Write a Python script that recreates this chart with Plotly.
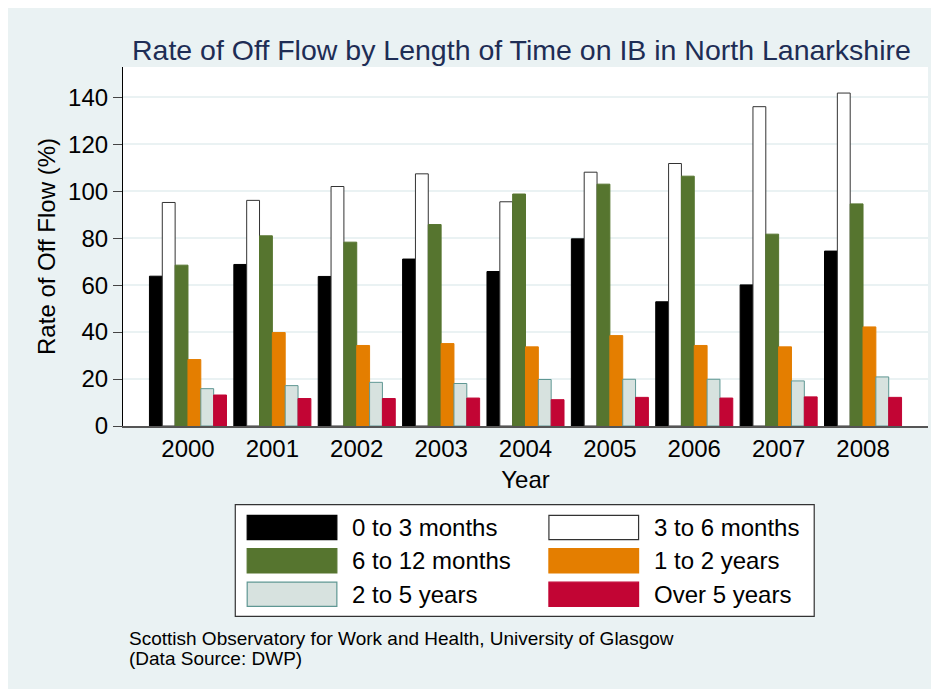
import plotly.graph_objects as go

years = ["2000", "2001", "2002", "2003", "2004", "2005", "2006", "2007", "2008"]
series_names = ["0 to 3 months", "3 to 6 months", "6 to 12 months",
                "1 to 2 years", "2 to 5 years", "Over 5 years"]
m0_3 = [63.8, 68.8, 63.7, 71.1, 65.8, 79.7, 52.9, 60.1, 74.5]
m3_6 = [95.2, 96.1, 102.0, 107.4, 95.5, 108.1, 111.8, 136.0, 141.8]
m6_12 = [68.5, 81.0, 78.3, 85.8, 98.8, 103.0, 106.4, 81.7, 94.6]
y1_2 = [28.3, 39.8, 34.3, 35.1, 33.7, 38.5, 34.3, 33.7, 42.2]
y2_5 = [15.9, 17.2, 18.6, 18.1, 19.8, 19.9, 19.9, 19.2, 20.9]
y5p = [13.2, 11.7, 11.7, 11.9, 11.2, 12.2, 11.9, 12.4, 12.2]
yticks = [0, 20, 40, 60, 80, 100, 120, 140]

series_values = [m0_3, m3_6, m6_12, y1_2, y2_5, y5p]
fills = ["#000000", "#FFFFFF", "#56752F", "#E47E00", "#D7E2DF", "#C20534"]
outlines = ["#000000", "#333333", "#56752F", "#E47E00", "#5F9793", "#C20534"]

FONT = "Liberation Sans, Arial, Helvetica, sans-serif"
BG = "#EAF2F3"
Wfig, Hfig = 939, 689
OFF = 8  # page body margin
L, T, R, B = 115.3, 59, 19.3, 271.3
PW = Wfig - L - R
PH = Hfig - T - B


def px(x):
    # screen x -> paper
    return (x - OFF - L) / PW


def py(y):
    # screen y -> paper
    return (Hfig - B - (y - OFF)) / PH


fig = go.Figure()
for name, vals, fc, lc in zip(series_names, series_values, fills, outlines):
    fig.add_trace(go.Bar(
        x=years, y=vals, name=name,
        marker=dict(color=fc, line=dict(color=lc, width=1)),
        showlegend=False,
    ))

shapes = []
annotations = []

# legend box
shapes.append(dict(type="rect", xref="paper", yref="paper",
                   x0=px(235.5), x1=px(814), y0=py(616), y1=py(504.3),
                   fillcolor="white", line=dict(color="#333333", width=1.2),
                   layer="above"))
col_x = [247.4, 548.9]
text_x = [350.5, 652]
row_y = [515, 548.3, 581.7]
sw_w, sw_h = 89.6, 24.3
for i, (name, fc, lc) in enumerate(zip(series_names, fills, outlines)):
    c = i % 2
    r = i // 2
    x0 = col_x[c]
    y0 = row_y[r]
    shapes.append(dict(type="rect", xref="paper", yref="paper",
                       x0=px(x0), x1=px(x0 + sw_w), y0=py(y0 + sw_h), y1=py(y0),
                       fillcolor=fc, line=dict(color=lc, width=1.2), layer="above"))
    annotations.append(dict(xref="paper", yref="paper", x=px(text_x[c]),
                            y=py(y0 + sw_h / 2), xanchor="left", yanchor="middle",
                            text=name, showarrow=False,
                            font=dict(family=FONT, size=24, color="black")))

# title
annotations.append(dict(xref="paper", yref="paper", x=px(521.5), y=py(50),
                        xanchor="center", yanchor="middle",
                        text="Rate of Off Flow by Length of Time on IB in North Lanarkshire",
                        showarrow=False,
                        font=dict(family=FONT, size=28.5, color="#1E2D55")))
# footer
annotations.append(dict(xref="paper", yref="paper", x=px(127), y=py(638),
                        xanchor="left", yanchor="middle",
                        text="Scottish Observatory for Work and Health, University of Glasgow",
                        showarrow=False, font=dict(family=FONT, size=19, color="black")))
annotations.append(dict(xref="paper", yref="paper", x=px(127), y=py(658),
                        xanchor="left", yanchor="middle",
                        text="(Data Source: DWP)",
                        showarrow=False, font=dict(family=FONT, size=19, color="black")))

fig.update_layout(
    width=Wfig, height=Hfig,
    margin=dict(l=L, r=R, t=T, b=B, pad=0),
    paper_bgcolor=BG, plot_bgcolor="white",
    barmode="group", bargap=0.087, bargroupgap=0,
    font=dict(family=FONT, size=24, color="black"),
    shapes=shapes, annotations=annotations,
    showlegend=False,
)
fig.update_xaxes(
    type="category", range=[-0.77, 8.77],
    showline=True, linecolor="#555555", linewidth=1.5,
    ticks="", showgrid=False,
    tickfont=dict(family=FONT, size=24, color="black"),
    title=dict(text="Year", font=dict(family=FONT, size=24, color="black"), standoff=11),
)
fig.update_yaxes(
    range=[0, 152.9], tickvals=yticks, ticktext=[str(v) for v in yticks],
    showline=True, linecolor="#000000", linewidth=1.2,
    ticks="outside", ticklen=9, tickcolor="#444444", tickwidth=1.2,
    showgrid=True, gridcolor=BG, gridwidth=2, zeroline=False,
    tickfont=dict(family=FONT, size=24, color="black"),
    title=dict(text="Rate of Off Flow (%)", font=dict(family=FONT, size=24, color="black"), standoff=5),
)

fig.write_html("out.html")
